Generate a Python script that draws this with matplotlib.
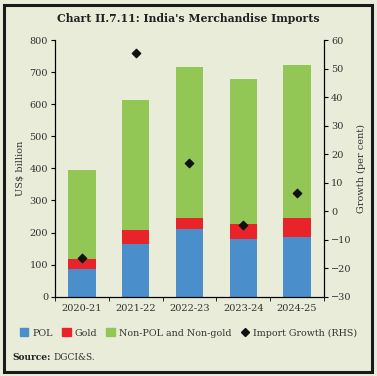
import matplotlib.pyplot as plt
import numpy as np
from matplotlib.patches import Rectangle
from matplotlib.lines import Line2D

years = ["2020-21", "2021-22", "2022-23", "2023-24", "2024-25"]
pol = [85, 163, 210, 180, 186]
gold = [34, 45, 35, 47, 58]
total = [396, 614, 717, 679, 721]
growth = [-16.4, 55.6, 17.0, -4.8, 6.5]

nonpol = [t - p - g for t, p, g in zip(total, pol, gold)]

bg = "#E9ECD8"
blue = "#4A8ECC"
red = "#E8232A"
green = "#92C755"
txt = "#333333"

plt.rcParams['font.family'] = ['DejaVu Serif']

fig = plt.figure(figsize=(3.77, 3.76), dpi=100, facecolor=bg)
W, H = 377, 376
ax = fig.add_axes([55 / W, 1 - 296.7 / H, (324 - 55) / W, (296.7 - 40) / H])
ax.set_facecolor(bg)

x = np.arange(len(years))
w = 0.51
ax.bar(x, pol, w, color=blue)
ax.bar(x, gold, w, bottom=pol, color=red)
ax.bar(x, nonpol, w, bottom=np.array(pol) + np.array(gold), color=green)

ax.set_xlim(-0.5, 4.5)
ax.set_ylim(0, 800)
ax.set_yticks(range(0, 801, 100))
ax.set_xticks(x)
ax.set_xticklabels(years)
ax.set_xticks(np.arange(-0.5, 4.6, 1), minor=True)
ax.tick_params(axis='x', which='major', length=0, pad=5, labelsize=7, labelcolor=txt)
ax.tick_params(axis='x', which='minor', length=3, direction='out')
ax.tick_params(axis='y', length=3, labelsize=7, labelcolor=txt, pad=2)
ax.spines['top'].set_visible(False)
ax.set_ylabel("US$ billion", fontsize=7, color=txt, labelpad=4)

ax2 = ax.twinx()
ax2.scatter(x, growth, marker='D', s=18, color='#111111', zorder=5)
ax2.set_ylim(-30, 60)
ax2.set_yticks(range(-30, 61, 10))
ax2.tick_params(axis='y', length=3, labelsize=7, labelcolor=txt, pad=2)
ax2.spines['top'].set_visible(False)
ax2.set_ylabel("Growth (per cent)", fontsize=7, color=txt, labelpad=4)

fig.text(0.5, 1 - 19 / H, "Chart II.7.11: India's Merchandise Imports",
         ha='center', va='center', fontsize=7.8, fontweight='bold', color='#222222')

handles = [
    Rectangle((0, 0), 1, 1, color=blue),
    Rectangle((0, 0), 1, 1, color=red),
    Rectangle((0, 0), 1, 1, color=green),
    Line2D([], [], marker='D', color='#111111', linestyle='None', markersize=4),
]
labels = ["POL", "Gold", "Non-POL and Non-gold", "Import Growth (RHS)"]
fig.legend(handles, labels, loc='center', bbox_to_anchor=(0.5, 1 - 333 / H), ncol=4,
           frameon=False, fontsize=6.8, handlelength=0.9, handleheight=0.9,
           handletextpad=0.4, columnspacing=1.0, labelcolor=txt)

fig.text(12 / W, 1 - 357 / H, "Source:", fontsize=6.5, fontweight='bold',
         va='center', color='#222222')
fig.text(53 / W, 1 - 357 / H, "DGCI&S.", fontsize=6.5, va='center', color=txt)

fig.patches.append(Rectangle((3.5 / W, 4.5 / H), (372 - 3.5) / W, (371.5 - 4.5) / H,
                             transform=fig.transFigure, fill=False,
                             edgecolor='#1a1a1a', linewidth=2.2))

fig.savefig("out.png", dpi=100, facecolor=bg)
